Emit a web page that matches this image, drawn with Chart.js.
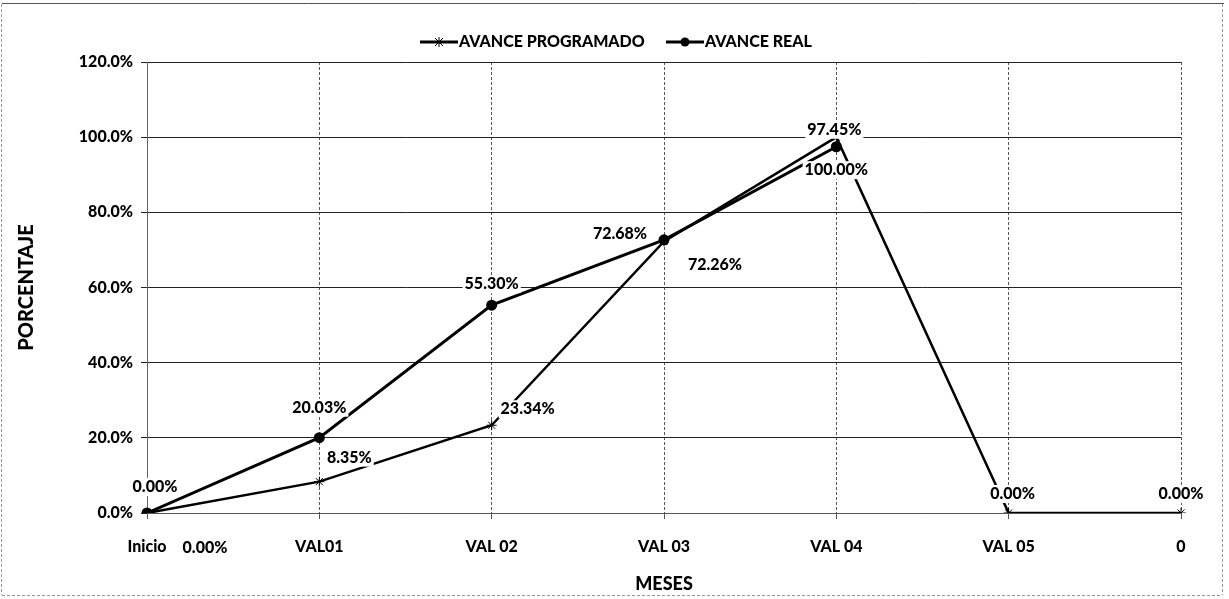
<!DOCTYPE html>
<html>
<head>
<meta charset="utf-8">
<script src="https://cdn.jsdelivr.net/npm/chart.js@4.4.1/dist/chart.umd.min.js"></script>
<style>
  body { margin: 0; background: #fff; }
  #wrap { width: 1229px; height: 599px; position: relative; }
</style>
</head>
<body>
<div id="wrap"><canvas id="myChart" width="1229" height="599"></canvas></div>
<script>
var meses = ["Inicio", "VAL01", "VAL 02", "VAL 03", "VAL 04", "VAL 05", "0"];
var avanceProgramado = [0, 8.35, 23.34, 72.26, 100.00, 0, 0];
var avanceReal = [0, 20.03, 55.30, 72.68, 97.45, null, null];
var yTicks = [0, 20, 40, 60, 80, 100, 120];

// desplazamiento de las etiquetas de datos (px)
var offProg = [[58, 35], [30, -24], [36, -16], [51, 23], [0, 33], [4, -19], [0, -19]];
var offReal = [[8, -26], [0, -30], [0, -21], [-44, -6], [-2, -17]];

var FONT = "Lato, 'Open Sans', sans-serif";

// etiquetas de datos
var etiquetas = {
	id : 'etiquetas',
	afterDatasetsDraw : function(chart) {
		var ctx = chart.ctx;
		var offs = [offProg, offReal];
		ctx.save();
		ctx.font = "900 16px " + FONT;
		ctx.textAlign = 'center';
		ctx.textBaseline = 'middle';
		chart.data.datasets.forEach(function(ds, i) {
			var meta = chart.getDatasetMeta(i);
			meta.data.forEach(function(pt, j) {
				var v = ds.data[j];
				if (v === null || v === undefined) return;
				var txt = v.toFixed(2) + '%';
				var x = pt.x + offs[i][j][0];
				var y = pt.y + offs[i][j][1];
				var w = ctx.measureText(txt).width;
				ctx.fillStyle = '#fff';
				ctx.fillRect(x - w / 2 - 2, y - 9, w + 4, 18);
				ctx.fillStyle = '#000';
				ctx.fillText(txt, x, y);
			});
		});
		ctx.restore();
	}
};

// leyenda con linea y marcador
var leyenda = {
	id : 'leyenda',
	afterDraw : function(chart) {
		var ctx = chart.ctx;
		var items = [ { x : 420, ds : 0 }, { x : 666, ds : 1 } ];
		ctx.save();
		ctx.font = "900 16px " + FONT;
		ctx.textBaseline = 'middle';
		items.forEach(function(it) {
			var ds = chart.data.datasets[it.ds];
			var y = 42;
			var cx = it.x + 19;
			ctx.strokeStyle = '#000';
			ctx.fillStyle = '#000';
			ctx.lineWidth = 3;
			ctx.beginPath();
			ctx.moveTo(it.x, y);
			ctx.lineTo(it.x + 38, y);
			ctx.stroke();
			ctx.lineWidth = 1;
			if (ds.pointStyle === 'circle') {
				ctx.beginPath();
				ctx.arc(cx, y, 4.5, 0, Math.PI * 2);
				ctx.fill();
			} else {
				ctx.beginPath();
				ctx.moveTo(cx - 5, y);
				ctx.lineTo(cx + 5, y);
				ctx.moveTo(cx, y - 5);
				ctx.lineTo(cx, y + 5);
				ctx.moveTo(cx - 4, y - 4);
				ctx.lineTo(cx + 4, y + 4);
				ctx.moveTo(cx - 4, y + 4);
				ctx.lineTo(cx + 4, y - 4);
				ctx.stroke();
			}
			ctx.fillText(ds.label, it.x + 39, y);
		});
		ctx.restore();
	}
};

// marco exterior
var marco = {
	id : 'marco',
	beforeDraw : function(chart) {
		var ctx = chart.ctx;
		ctx.save();
		ctx.strokeStyle = '#555';
		ctx.lineWidth = 1;
		ctx.beginPath();
		ctx.moveTo(2, 3.5);
		ctx.lineTo(1224, 3.5);
		ctx.stroke();
		ctx.setLineDash([3, 2]);
		ctx.strokeStyle = '#999';
		ctx.beginPath();
		ctx.moveTo(2, 595.5);
		ctx.lineTo(1222, 595.5);
		ctx.moveTo(1.5, 4);
		ctx.lineTo(1.5, 595);
		ctx.moveTo(1222.5, 4);
		ctx.lineTo(1222.5, 595);
		ctx.stroke();
		ctx.restore();
	}
};

var ctxD = document.getElementById("myChart").getContext('2d');
var myLineChart = new Chart(ctxD, {
	type : 'line',
	data : {
		labels : meses,
		datasets : [ {
			label : "AVANCE PROGRAMADO",
			data : avanceProgramado,
			borderColor : '#000',
			backgroundColor : '#000',
			borderWidth : 2.5,
			pointStyle : 'star',
			pointRadius : 5,
			pointBorderWidth : 1,
			pointBorderColor : '#000',
			tension : 0
		}, {
			label : "AVANCE REAL",
			data : avanceReal,
			borderColor : '#000',
			backgroundColor : '#000',
			borderWidth : 3,
			pointStyle : 'circle',
			pointRadius : 4,
			pointBorderColor : '#000',
			tension : 0
		} ]
	},
	options : {
		responsive : false,
		animation : false,
		layout : {
			padding : { top : 62, right : 48, left : 0, bottom : 0 }
		},
		plugins : {
			legend : { display : false },
			tooltip : { enabled : false }
		},
		scales : {
			x : {
				offset : false,
				afterFit : function(s) { s.height = 86; },
				grid : {
					color : '#555',
					lineWidth : 1,
					tickLength : 6
				},
				border : { color : '#555', width : 1, dash : [3, 2] },
				ticks : {
					color : '#000',
					padding : 18,
					font : { family : FONT, size : 16, weight : '900' }
				},
				title : {
					display : true,
					text : 'MESES',
					color : '#000',
					padding : { top : 4 },
					font : { family : FONT, size : 18, weight : '900' }
				}
			},
			y : {
				min : 0,
				max : 120,
				afterFit : function(s) { s.width = 147; },
				afterBuildTicks : function(s) {
					s.ticks = yTicks.map(function(v) { return { value : v }; });
				},
				grid : {
					color : '#222',
					lineWidth : 1,
					tickLength : 6
				},
				border : { color : '#666', width : 1 },
				ticks : {
					color : '#000',
					padding : 8,
					font : { family : FONT, size : 16, weight : '900' },
					callback : function(v) { return v.toFixed(1) + '%'; }
				},
				title : {
					display : true,
					text : 'PORCENTAJE',
					color : '#000',
					padding : { top : 15, bottom : 0 },
					font : { family : FONT, size : 20, weight : '900' }
				}
			}
		}
	},
	plugins : [ marco, etiquetas, leyenda ]
});
</script>
</body>
</html>
